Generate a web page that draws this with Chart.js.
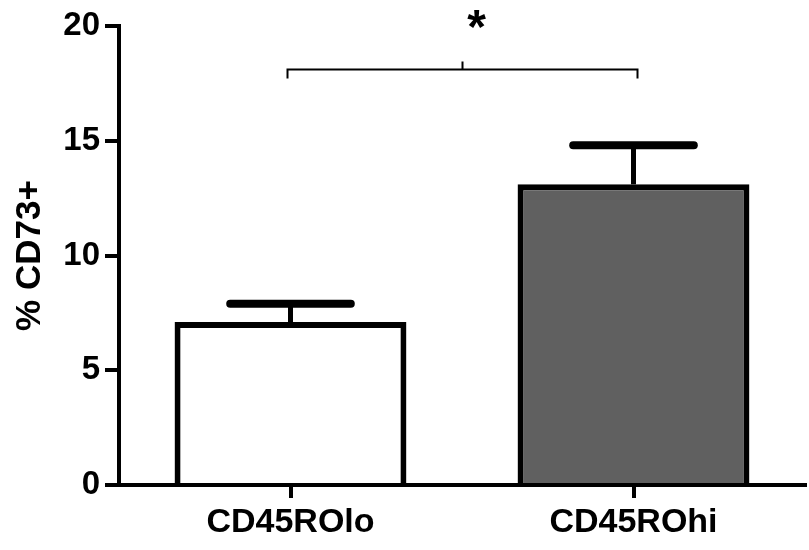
<!DOCTYPE html>
<html>
<head>
<meta charset="utf-8">
<script src="https://cdn.jsdelivr.net/npm/chart.js@4"></script>
<style>
  html, body { margin: 0; padding: 0; background: #fff; }
  #wrap { width: 809px; height: 550px; position: relative; }
</style>
</head>
<body>
<div id="wrap"><canvas id="c" width="809" height="550"></canvas></div>
<script>
const categories = ['CD45ROlo', 'CD45ROhi'];
const means = [7.1, 13.1];
const sems = [0.8, 1.7];
const barColors = ['#ffffff', '#606060'];
const yTickValues = [0, 5, 10, 15, 20];
const yTitle = '% CD73+';
const sigLabel = '*';
const sigLevel = 18.1;

const FONT = '"Liberation Sans", Arial, Helvetica, sans-serif';

const errorBarPlugin = {
  id: 'errorBars',
  afterDatasetsDraw(chart) {
    const ctx = chart.ctx;
    const meta = chart.getDatasetMeta(0);
    const y = chart.scales.y;
    ctx.save();
    ctx.strokeStyle = '#000';
    meta.data.forEach((bar, i) => {
      const cx = bar.x;
      const top = y.getPixelForValue(means[i] + sems[i]);
      const base = y.getPixelForValue(means[i]);
      const half = bar.width * 0.26;
      ctx.lineWidth = 5;
      ctx.lineCap = 'butt';
      ctx.beginPath();
      ctx.moveTo(cx, base);
      ctx.lineTo(cx, top);
      ctx.stroke();
      ctx.lineWidth = 8;
      ctx.lineCap = 'round';
      ctx.beginPath();
      ctx.moveTo(cx - half, top);
      ctx.lineTo(cx + half, top);
      ctx.stroke();
    });
    ctx.restore();
  }
};

const sigPlugin = {
  id: 'significance',
  afterDraw(chart) {
    const ctx = chart.ctx;
    const x = chart.scales.x;
    const y = chart.scales.y;
    const x0 = x.getPixelForValue(0) - 3;
    const x1 = x.getPixelForValue(1) + 4;
    const yl = y.getPixelForValue(sigLevel);
    const xm = (x0 + x1) / 2;
    ctx.save();
    ctx.strokeStyle = '#000';
    ctx.lineWidth = 2;
    ctx.lineCap = 'butt';
    ctx.beginPath();
    ctx.moveTo(x0, yl + 9);
    ctx.lineTo(x0, yl);
    ctx.lineTo(x1, yl);
    ctx.lineTo(x1, yl + 9);
    ctx.moveTo(xm, yl);
    ctx.lineTo(xm, yl - 8);
    ctx.stroke();
    ctx.fillStyle = '#000';
    ctx.font = 'bold 48px ' + FONT;
    ctx.textAlign = 'center';
    ctx.textBaseline = 'middle';
    ctx.fillText(sigLabel, xm + 14, y.getPixelForValue(20.2) + 8);
    ctx.restore();
  }
};

new Chart(document.getElementById('c'), {
  type: 'bar',
  data: {
    labels: categories,
    datasets: [{
      data: means,
      backgroundColor: barColors,
      borderColor: '#000',
      borderWidth: 6,
      borderSkipped: 'bottom',
      categoryPercentage: 1.0,
      barPercentage: 0.676
    }]
  },
  options: {
    responsive: false,
    animation: false,
    events: [],
    layout: { padding: { top: 26, right: 4, left: 0, bottom: 0 } },
    plugins: {
      legend: { display: false },
      tooltip: { enabled: false }
    },
    scales: {
      x: {
        grid: {
          display: true, drawOnChartArea: false, drawTicks: true,
          tickLength: 13, lineWidth: 4, color: '#000', offset: false
        },
        border: { display: true, color: '#000', width: 4 },
        ticks: {
          color: '#000', padding: 4,
          font: { family: FONT, size: 34, weight: 'bold' }
        },
        afterFit(s) { s.height = 65; }
      },
      y: {
        min: 0, max: 20,
        afterBuildTicks(s) { s.ticks = yTickValues.map(v => ({ value: v })); },
        grid: {
          display: true, drawOnChartArea: false, drawTicks: true,
          tickLength: 14, lineWidth: 4, color: '#000'
        },
        border: { display: true, color: '#000', width: 4 },
        ticks: {
          color: '#000', padding: 5,
          font: { family: FONT, size: 33, weight: 'bold' }
        },
        title: {
          display: true, text: yTitle, color: '#000',
          padding: { top: 9, bottom: 0 },
          font: { family: FONT, size: 35, weight: 'bold' }
        },
        afterFit(s) { s.width = 119; }
      }
    }
  },
  plugins: [errorBarPlugin, sigPlugin]
});
</script>
</body>
</html>
